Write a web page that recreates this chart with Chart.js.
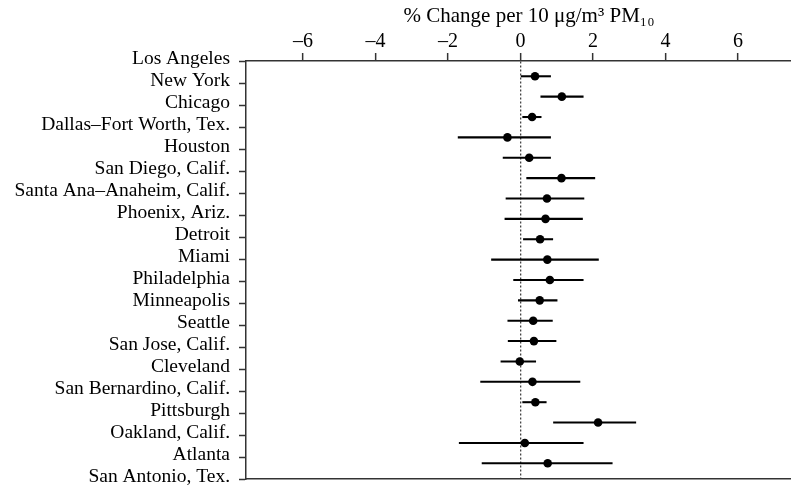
<!DOCTYPE html>
<html>
<head>
<meta charset="utf-8">
<script src="https://cdn.jsdelivr.net/npm/chart.js@4/dist/chart.umd.min.js"></script>
<style>
  html, body { margin: 0; padding: 0; background: #fff; }
  #wrap { width: 791px; height: 485px; }
</style>
</head>
<body>
<div id="wrap"><canvas id="c" width="791" height="485"></canvas></div>
<script>
const cities = [
  "Los Angeles", "New York", "Chicago", "Dallas\u2013Fort Worth, Tex.", "Houston",
  "San Diego, Calif.", "Santa Ana\u2013Anaheim, Calif.", "Phoenix, Ariz.", "Detroit", "Miami",
  "Philadelphia", "Minneapolis", "Seattle", "San Jose, Calif.", "Cleveland",
  "San Bernardino, Calif.", "Pittsburgh", "Oakland, Calif.", "Atlanta", "San Antonio, Tex."
];
const estimate = [0.40, 1.14, 0.32, -0.36, 0.24, 1.13, 0.73, 0.69, 0.54, 0.74,
                  0.81, 0.53, 0.35, 0.37, -0.02, 0.33, 0.41, 2.14, 0.12, 0.75];
const lower    = [0.00, 0.56, 0.06, -1.72, -0.48, 0.17, -0.40, -0.43, 0.08, -0.80,
                  -0.19, -0.06, -0.35, -0.34, -0.54, -1.10, 0.06, 0.91, -1.69, -1.06];
const upper    = [0.83, 1.73, 0.57, 0.83, 0.83, 2.05, 1.75, 1.71, 0.89, 2.15,
                  1.73, 1.01, 0.88, 0.98, 0.42, 1.64, 0.71, 3.18, 1.73, 2.53];
const xTickValues = [-6, -4, -2, 0, 2, 4, 6];
const xTitle = "\u2003% Change per 10 \u03bcg/m\u00b3 PM\u2081\u2080";

const SERIF = "'Liberation Serif', 'Times New Roman', serif";
const AXIS = '#333';

const pointData = estimate.map((v, i) => ({ x: v, y: i }));
const ciData = lower.map((v, i) => ({ x: [v, upper[i]], y: i }));

new Chart(document.getElementById('c'), {
  type: 'scatter',
  data: {
    datasets: [
      {
        type: 'scatter',
        data: pointData,
        xAxisID: 'x',
        yAxisID: 'yp',
        pointRadius: 4.3,
        pointBackgroundColor: '#000',
        pointBorderWidth: 0,
        showLine: false
      },
      {
        type: 'bar',
        indexAxis: 'y',
        data: ciData,
        xAxisID: 'x',
        yAxisID: 'yp',
        backgroundColor: '#000',
        borderWidth: 0,
        barThickness: 1.4,
        grouped: false
      }
    ]
  },
  options: {
    responsive: false,
    animation: false,
    events: [],
    layout: { padding: 0, autoPadding: false },
    plugins: { legend: { display: false }, tooltip: { enabled: false } },
    scales: {
      x: {
        type: 'linear',
        position: 'top',
        min: -7.57,
        max: 7.46,
        offset: false,
        afterBuildTicks: (s) => { s.ticks = xTickValues.map(v => ({ value: v })); },
        afterFit: (s) => { s.height = 61; s.paddingLeft = 0; s.paddingRight = 0; },
        ticks: {
          padding: -1,
          color: '#000',
          font: { family: SERIF, size: 20 },
          callback: (v) => (v < 0 ? '\u2013' + Math.abs(v) : String(v))
        },
        grid: {
          drawOnChartArea: true,
          offset: false,
          color: (ctx) => (ctx.tick && ctx.tick.value === 0 ? '#444' : 'rgba(0,0,0,0)'),
          lineWidth: 1.3,
          tickColor: AXIS,
          tickLength: 8,
          tickWidth: 1.5
        },
        border: { display: true, color: AXIS, width: 1.5, dash: [2, 2] },
        title: {
          display: true,
          text: xTitle,
          color: '#000',
          font: { family: SERIF, size: 21 },
          padding: { top: 4, bottom: 0 }
        }
      },
      x2: {
        type: 'linear',
        position: 'bottom',
        min: -7.57,
        max: 7.46,
        afterFit: (s) => { s.height = 6; s.paddingLeft = 0; s.paddingRight = 0; },
        ticks: { display: false },
        grid: { drawOnChartArea: false, drawTicks: false },
        border: { display: true, color: AXIS, width: 1.5 }
      },
      yl: {
        type: 'category',
        axis: 'y',
        position: 'left',
        labels: cities,
        offset: false,
        afterFit: (s) => { s.width = 246; s.paddingTop = 0; s.paddingBottom = 0; },
        ticks: {
          autoSkip: false,
          padding: 9,
          labelOffset: -2,
          color: '#000',
          font: { family: SERIF, size: 19.5 }
        },
        grid: {
          drawOnChartArea: false,
          offset: false,
          tickColor: AXIS,
          tickLength: 7,
          tickWidth: 1.5
        },
        border: { display: true, color: AXIS, width: 1.5 }
      },
      yp: {
        type: 'linear',
        axis: 'y',
        display: false,
        reverse: true,
        offset: false,
        grace: 0,
        min: -0.75,
        max: 19.77
      }
    }
  }
});
</script>
</body>
</html>
